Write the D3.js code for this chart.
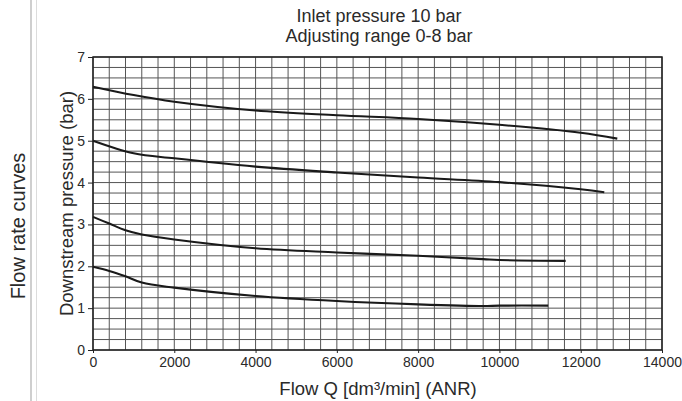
<!DOCTYPE html>
<html><head><meta charset="utf-8">
<script src="https://cdn.jsdelivr.net/npm/d3@7"></script>
<style>body{margin:0;background:#fff}svg{display:block}text{font-family:"Liberation Sans",Arial,sans-serif;fill:#2a2a2a}</style>
</head><body>
<svg id="c" width="682" height="401"></svg>
<script>
const titleLines = ["Inlet pressure 10 bar", "Adjusting range 0-8 bar"];
const xTicks = [0, 2000, 4000, 6000, 8000, 10000, 12000, 14000];
const yTicks = [0, 1, 2, 3, 4, 5, 6, 7];
const xLabel = "Flow Q [dm³/min] (ANR)";
const yLabel = "Downstream pressure (bar)";
const sideLabel = "Flow rate curves";

const q6 = [0, 1000, 2000, 4000, 6000, 8000, 10000, 12000, 12900];
const p6 = [6.29, 6.09, 5.93, 5.72, 5.61, 5.52, 5.38, 5.19, 5.05];
const q5 = [0, 1000, 2000, 4000, 6000, 8000, 10000, 12000, 12580];
const p5 = [5.0, 4.70, 4.58, 4.38, 4.24, 4.12, 4.01, 3.84, 3.77];
const q3 = [0, 400, 800, 1200, 2000, 4000, 6000, 8000, 9600, 10000, 11630];
const p3 = [3.18, 3.02, 2.86, 2.76, 2.64, 2.43, 2.33, 2.25, 2.17, 2.15, 2.13];
const q2 = [0, 400, 800, 1200, 2000, 4000, 6000, 8000, 9600, 10000, 11200];
const p2 = [1.99, 1.89, 1.76, 1.61, 1.49, 1.29, 1.17, 1.09, 1.05, 1.06, 1.06];
const curves = [[q6, p6], [q5, p5], [q3, p3], [q2, p2]];

const svg = d3.select("#c");
const x = d3.scaleLinear().domain([0, 14000]).range([93, 662]);
const y = d3.scaleLinear().domain([0, 7]).range([350, 57]);

// side rules
svg.append("line").attr("x1", 31).attr("x2", 31).attr("y1", 0).attr("y2", 401).attr("stroke", "#cfcfcf").attr("stroke-width", 2);
svg.append("line").attr("x1", 36.5).attr("x2", 36.5).attr("y1", 0).attr("y2", 401).attr("stroke", "#dcdcdc").attr("stroke-width", 1);

// grid
const g = svg.append("g");
d3.range(0, 14001, 400).forEach(v => {
  g.append("line").attr("x1", x(v)).attr("x2", x(v)).attr("y1", y(0)).attr("y2", y(7))
    .attr("stroke", "#555").attr("stroke-width", 1);
});
d3.range(0, 7.001, 0.25).forEach(v => {
  g.append("line").attr("x1", x(0)).attr("x2", x(14000)).attr("y1", y(v)).attr("y2", y(v))
    .attr("stroke", "#555").attr("stroke-width", 1);
});
svg.append("rect").attr("x", x(0)).attr("y", y(7)).attr("width", x(14000) - x(0)).attr("height", y(0) - y(7))
  .attr("fill", "none").attr("stroke", "#222").attr("stroke-width", 1.5);

// axes
const ax = svg.append("g").attr("transform", `translate(0,${y(0)})`)
  .call(d3.axisBottom(x).tickValues(xTicks).tickSize(3).tickPadding(4).tickFormat(d3.format("d")));
ax.select(".domain").remove();
ax.selectAll("line").attr("stroke", "#222");
ax.selectAll("text").style("font-size", "14px").style("font-family", "Liberation Sans, Arial, sans-serif").attr("fill", "#2a2a2a");

const ay = svg.append("g").attr("transform", `translate(${x(0)},0)`)
  .call(d3.axisLeft(y).tickValues(yTicks).tickSize(5).tickPadding(3).tickFormat(d3.format("d")));
ay.select(".domain").remove();
ay.selectAll("line").attr("stroke", "#222");
ay.selectAll("text").style("font-size", "14px").style("font-family", "Liberation Sans, Arial, sans-serif").attr("fill", "#2a2a2a");

// curves
const line = d3.line().x(d => x(d[0])).y(d => y(d[1])).curve(d3.curveCatmullRom.alpha(0.5));
curves.forEach(([qs, ps]) => {
  svg.append("path").datum(qs.map((q, i) => [q, ps[i]])).attr("d", line)
    .attr("fill", "none").attr("stroke", "#1a1a1a").attr("stroke-width", 2.1).attr("stroke-linecap", "butt");
});

// titles
titleLines.forEach((t, i) => {
  svg.append("text").attr("x", 379).attr("y", 21.5 + i * 20).attr("text-anchor", "middle")
    .style("font-size", "18px").text(t);
});
svg.append("text").attr("x", 378).attr("y", 395).attr("text-anchor", "middle").style("font-size", "18.5px").text(xLabel);
svg.append("text").attr("transform", `translate(73,${(y(0) + y(7)) / 2}) rotate(-90)`).attr("text-anchor", "middle")
  .style("font-size", "18.5px").text(yLabel);
svg.append("text").attr("transform", `translate(25,226) rotate(-90)`).attr("text-anchor", "middle")
  .style("font-size", "20px").text(sideLabel);
</script>
</body></html>
